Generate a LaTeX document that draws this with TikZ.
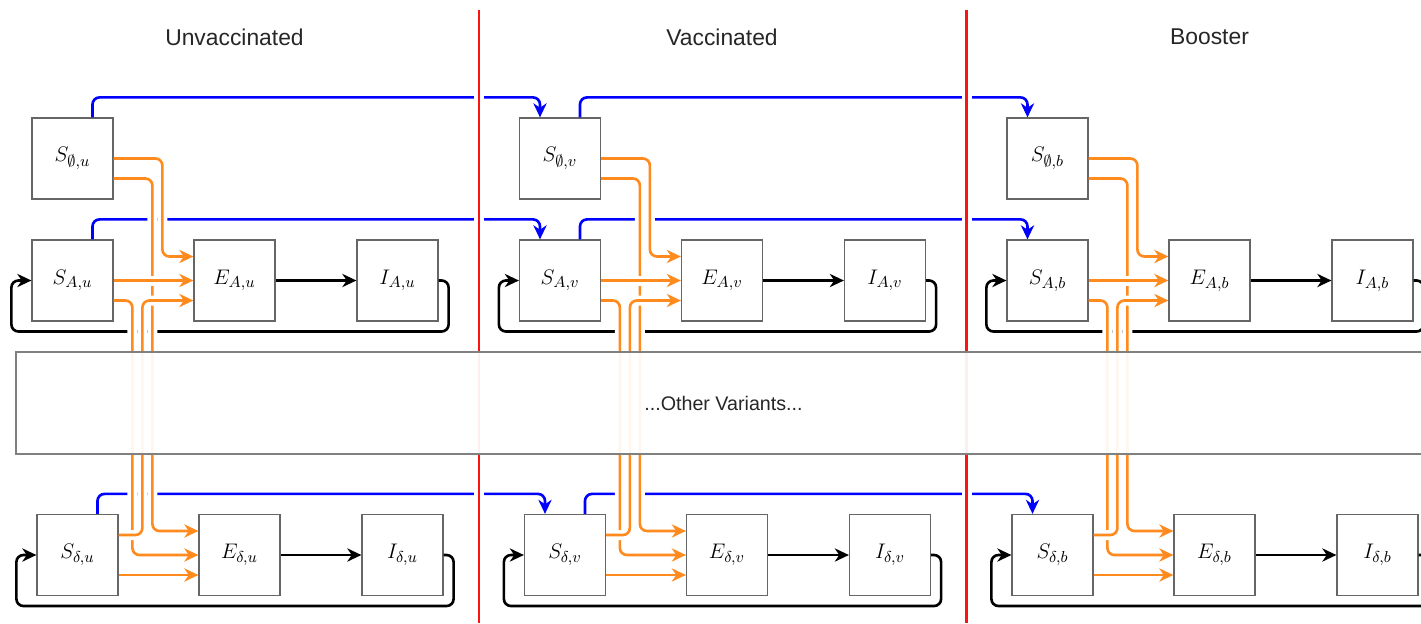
\documentclass[tikz,border=0pt]{standalone}
\usepackage{fontspec}
\setsansfont{Liberation Sans}
\usetikzlibrary{arrows.meta, calc}

\definecolor{inforange}{RGB}{255,138,30}
\definecolor{vaccblue}{RGB}{0,0,255}
\definecolor{wallred}{RGB}{250,20,20}

\begin{document}
\begin{tikzpicture}[x=0.02cm, y=-0.02cm, >={Stealth[length=8pt, width=7.5pt, inset=2.5pt]},
  comp/.style={draw=black!60, line width=0.7pt, fill=white, minimum size=1.62cm,
    inner sep=0pt, font=\fontsize{12.6}{15}\selectfont},
  secname/.style={font=\sffamily\fontsize{13}{16}\selectfont, text=black!85},
  gapped/.style={preaction={draw=white, line width=5.7pt, -, shorten <=2pt, shorten >=2pt}},
  infl/.style={gapped, draw=inforange, line width=1.5pt, rounded corners=4pt, ->},
  vacc/.style={draw=vaccblue, line width=1.5pt, rounded corners=4pt, ->},
  recov/.style={draw=black, line width=1.5pt, rounded corners=4pt, ->}]

  \useasboundingbox (0,0) rectangle (1421,623);
  \clip (0,0) rectangle (1421,623);

  % Compartments for each vaccination status
  \foreach \grp/\ox/\hdr in {u/0/Unvaccinated, v/487.5/Vaccinated, b/975/Booster} {
    \node[secname] (T\grp) at (\ox+234.5, 37) {\hdr};
    \node[comp] (S0\grp) at (\ox+72.5, 158.5) {$S_{\emptyset,\grp}$};
    \node[comp] (SA\grp) at (\ox+72.5, 280.5) {$S_{A,\grp}$};
    \node[comp] (EA\grp) at (\ox+234.5, 280.5) {$E_{A,\grp}$};
    \node[comp] (IA\grp) at (\ox+397.5, 280.5) {$I_{A,\grp}$};
    \node[comp] (Sd\grp) at (\ox+77.5, 555) {$S_{\delta,\grp}$};
    \node[comp] (Ed\grp) at (\ox+239.5, 555) {$E_{\delta,\grp}$};
    \node[comp] (Id\grp) at (\ox+402.5, 555) {$I_{\delta,\grp}$};
  }

  % Progression and recovery back to susceptible
  \foreach \grp in {u,v,b} {
    \foreach \var in {A,d} {
      \draw[recov] (E\var\grp) -- (I\var\grp);
      \draw[recov] (I\var\grp.east) -| ($(I\var\grp.east)+(10,51)$)
        -| ($(S\var\grp.west)+(-20,0)$) -- (S\var\grp.west);
    }
  }

  % Vaccination (blue)
  \foreach \src/\dst in {u/v, v/b} {
    \foreach \row in {0,A,d} {
      \draw[vacc] ($(S\row\src.north)+(20,0)$) |- ($(S\row\dst.north)+(-20,-20)$)
        -- ($(S\row\dst.north)+(-20,0)$);
    }
  }

  % Status borders
  \foreach \xr in {479, 966.5}
    \draw[wallred, line width=1.7pt, preaction={draw=white, line width=5.7pt}] (\xr,10) -- (\xr,623);

  % Infection (orange)
  \foreach \grp in {u,v,b} {
    \draw[infl] ($(SA\grp.east)+(0,20)$) -| ($(Ed\grp.west)+(-66,0)$) -- (Ed\grp.west);
    \draw[infl] ($(S0\grp.east)+(0,20)$) -| ($(Ed\grp.west)+(-46,-24)$) -- ($(Ed\grp.west)+(0,-24)$);
    \draw[infl] ($(Sd\grp.east)+(0,-20)$) -| ($(EA\grp.west)+(-51,20)$) -- ($(EA\grp.west)+(0,20)$);
    \draw[infl] (S0\grp.east) -| ($(EA\grp.west)+(-31,-24)$) -- ($(EA\grp.west)+(0,-24)$);
    \draw[infl] (SA\grp) -- (EA\grp);
    \draw[infl] ($(Sd\grp.east)+(0,20)$) -- ($(Ed\grp.west)+(0,20)$);
  }

  % Band for the remaining variants
  \node[draw=black!50, line width=0.8pt, fill=white, fill opacity=0.93, text opacity=1,
    minimum width=28.3cm, minimum height=2.04cm, font=\sffamily\fontsize{11.2}{14}\selectfont,
    text=black!85] (others) at (723.5, 403) {...Other Variants...};

\end{tikzpicture}
\end{document}
